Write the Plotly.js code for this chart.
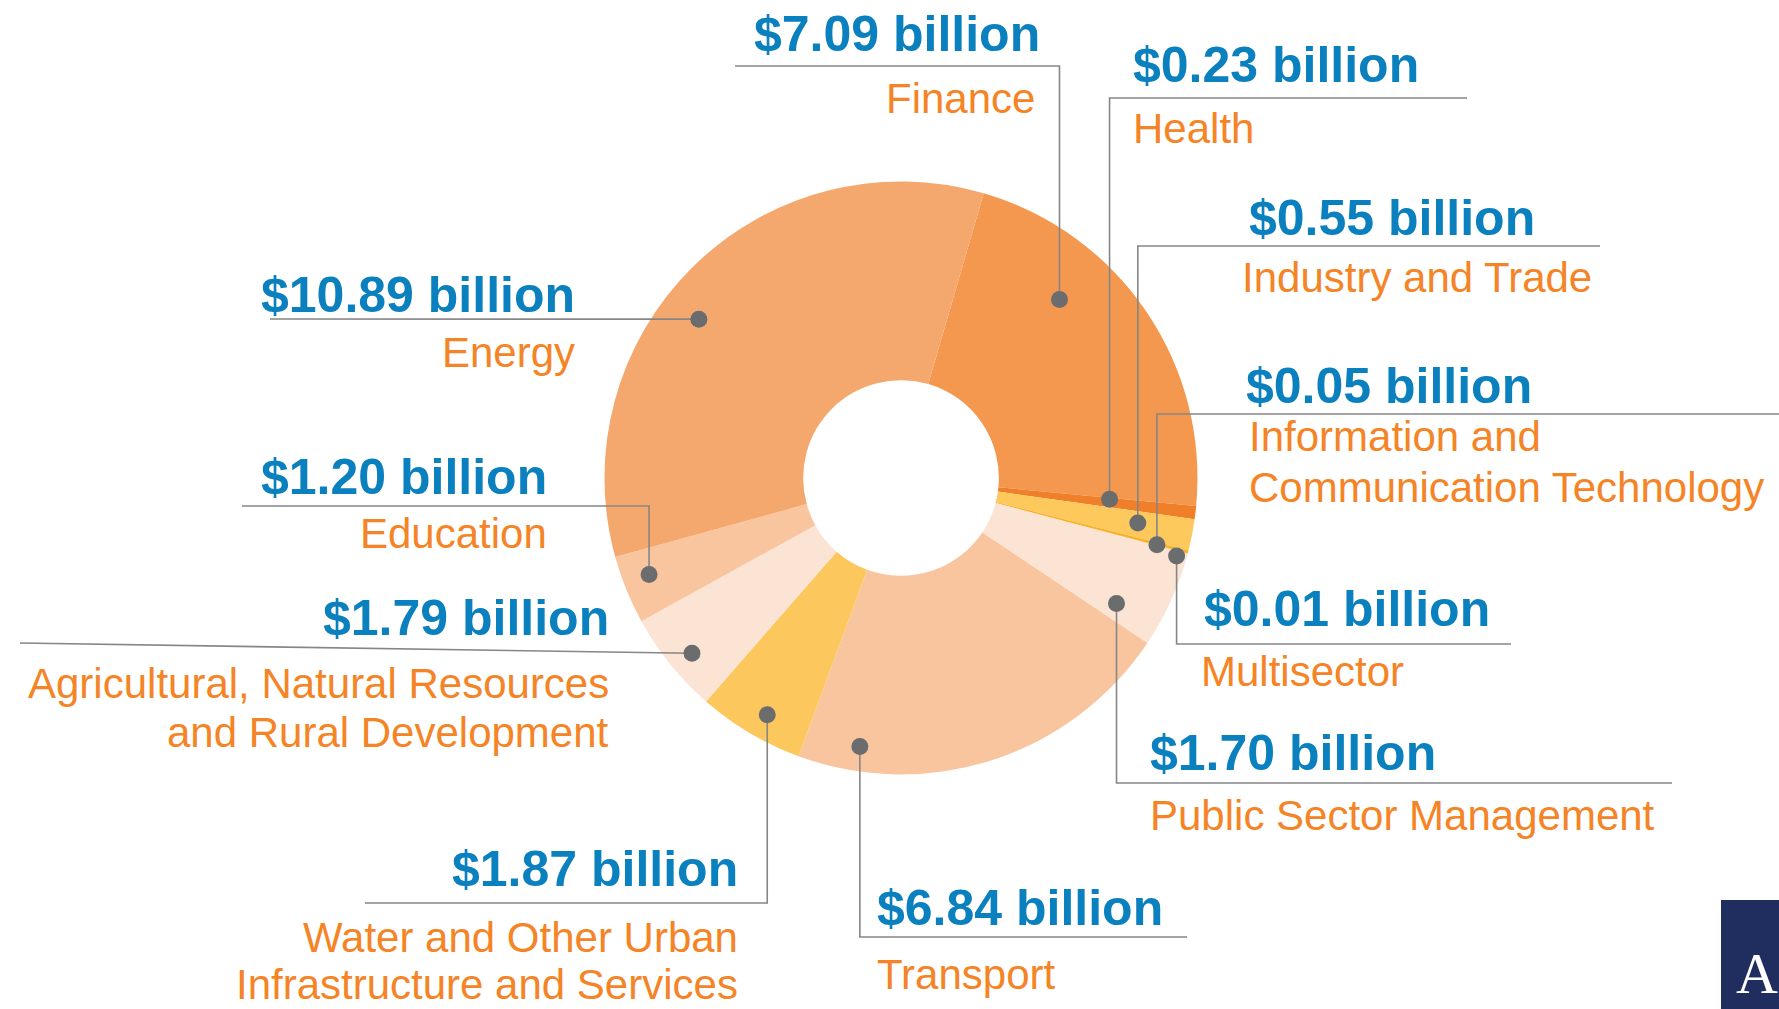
<!DOCTYPE html>
<html>
<head>
<meta charset="utf-8">
<script src="https://cdn.plot.ly/plotly-3.0.1.min.js"></script>
<style>
html,body{margin:0;padding:0;background:#ffffff;}
#chart{width:1779px;height:1009px;}
</style>
</head>
<body>
<div id="chart"></div>
<script>
// ---------------- DATA ----------------
const sectors = [
  "Finance", "Health", "Industry and Trade",
  "Information and Communication Technology", "Multisector",
  "Public Sector Management", "Transport",
  "Water and Other Urban Infrastructure and Services",
  "Agricultural, Natural Resources and Rural Development",
  "Education", "Energy"
];
const amounts = [7.09, 0.23, 0.55, 0.05, 0.01, 1.70, 6.84, 1.87, 1.79, 1.20, 10.89];
const displayNames = [
  "Finance", "Health", "Industry and Trade",
  "Information and<br>Communication Technology", "Multisector",
  "Public Sector Management", "Transport",
  "Water and Other Urban<br>Infrastructure and Services",
  "Agricultural, Natural Resources<br>and Rural Development",
  "Education", "Energy"
];

// ---------------- STYLE / LAYOUT ----------------
const W = 1779, H = 1009;
const sliceColors = ["#F4974F", "#F07F2A", "#FDC85C", "#F9B124", "#F4A11C",
                     "#FCE4D5", "#F8C59F", "#FCC85D", "#FCE4D5", "#F8C59F", "#F5A86E"];
const pieCX = 901, pieCY = 478, pieR = 296.5, holeFrac = 0.33, startRotation = 16.2;
const blue = "#0A80BE", orange = "#F58426", lineGray = "#868686", dotGray = "#6B6C6E";
const fontFam = "Liberation Sans, Arial, Helvetica, sans-serif";
const valueSize = 50, nameSize = 42;

// callout placement (per slice, same order as data)
const dotShiftDeg = [-14.2, -0.9, -0.3, 0.2, 1.05, 5.9, 26.7, -1.2, -1.1, 1.2, -7.2];
const dotRadFrac  = [0.805, 0.707, 0.813, 0.892, 0.966, 0.841, 0.916, 0.917, 0.92, 0.91, 0.867];
const leaderElbow = [true, true, true, true, true, true, true, true, false, true, false];
const leaderEndX  = [735, 1467, 1600, 1779, 1511, 1672, 1187, 365, 20, 242, 270];
const leaderEndY  = [66, 98, 246, 414, 644, 783, 937, 903, 643, 506, 319];
const textSide    = ["right","left","left","left","left","left","left","right","right","right","right"];
const valueX = [1041, 1132, 1248, 1245, 1203, 1149, 876, 739, 610, 548, 576];
const valueY = [34, 65, 218, 386, 609, 753, 908, 869, 618, 477, 295];
const nameX  = [1036, 1132, 1241, 1248, 1200, 1149, 876, 739, 610, 548, 576];
const nameY  = [98, 128, 277, 436, 671, 815, 974, 937, 683, 533, 352];
const nameGap = [50, 50, 50, 51, 50, 50, 50, 47, 49, 50, 50];

// ---------------- BUILD ----------------
const total = amounts.reduce((a, b) => a + b, 0);
const pieTrace = {
  type: "pie",
  labels: sectors,
  values: amounts,
  sort: false,
  direction: "clockwise",
  rotation: startRotation,
  hole: holeFrac,
  textinfo: "none",
  hoverinfo: "label+value",
  showlegend: false,
  marker: {colors: sliceColors, line: {width: 0}},
  domain: {
    x: [(pieCX - pieR) / W, (pieCX + pieR) / W],
    y: [1 - (pieCY + pieR) / H, 1 - (pieCY - pieR) / H]
  }
};
const dummy = {type: "scatter", x: [], y: [], hoverinfo: "skip", showlegend: false};

const shapes = [];
const annotations = [];
let cum = startRotation;
amounts.forEach((v, i) => {
  const span = v / total * 360;
  const mid = cum + span / 2;
  cum += span;
  const ang = (mid + dotShiftDeg[i]) * Math.PI / 180;
  const r = dotRadFrac[i] * pieR;
  const dx = pieCX + r * Math.sin(ang);
  const dy = pieCY - r * Math.cos(ang);
  let path;
  if (leaderElbow[i]) {
    path = `M ${dx} ${dy} L ${dx} ${leaderEndY[i]} L ${leaderEndX[i]} ${leaderEndY[i]}`;
  } else {
    path = `M ${dx} ${dy} L ${leaderEndX[i]} ${leaderEndY[i]}`;
  }
  shapes.push({type: "path", xref: "x", yref: "y", path: path, layer: "above",
               line: {color: lineGray, width: 1.6}});
  const dr = 8.5;
  shapes.push({type: "circle", xref: "x", yref: "y", layer: "above",
               x0: dx - dr, x1: dx + dr, y0: dy - dr, y1: dy + dr,
               fillcolor: dotGray, line: {width: 0}});
  annotations.push({
    xref: "x", yref: "y", x: valueX[i], y: valueY[i], showarrow: false,
    xanchor: textSide[i], yanchor: "middle", align: textSide[i], borderpad: 0,
    text: "<b>$" + v.toFixed(2) + " billion</b>",
    font: {family: fontFam, size: valueSize, color: blue}
  });
  displayNames[i].split("<br>").forEach((ln, k) => {
    annotations.push({
      xref: "x", yref: "y", x: nameX[i], y: nameY[i] + k * nameGap[i], showarrow: false,
      xanchor: textSide[i], yanchor: "middle", align: textSide[i], borderpad: 0,
      text: ln,
      font: {family: fontFam, size: nameSize, color: orange}
    });
  });
});

// corner logo block
shapes.push({type: "rect", xref: "x", yref: "y", layer: "above",
             x0: 1721, x1: 1790, y0: 900, y1: 1020, fillcolor: "#1F2E5E", line: {width: 0}});
annotations.push({xref: "x", yref: "y", x: 1735, y: 1007, showarrow: false, borderpad: 0,
                  xanchor: "left", yanchor: "bottom", text: "A",
                  font: {family: "Liberation Serif, DejaVu Serif, serif", size: 58, color: "#ffffff"}});

const layout = {
  width: W, height: H,
  margin: {l: 0, r: 0, t: 0, b: 0},
  paper_bgcolor: "#ffffff", plot_bgcolor: "rgba(0,0,0,0)",
  xaxis: {range: [0, W], visible: false, fixedrange: true},
  yaxis: {range: [H, 0], visible: false, fixedrange: true},
  shapes: shapes,
  annotations: annotations,
  showlegend: false
};

Plotly.newPlot("chart", [dummy, pieTrace], layout, {displayModeBar: false});
</script>
</body>
</html>
